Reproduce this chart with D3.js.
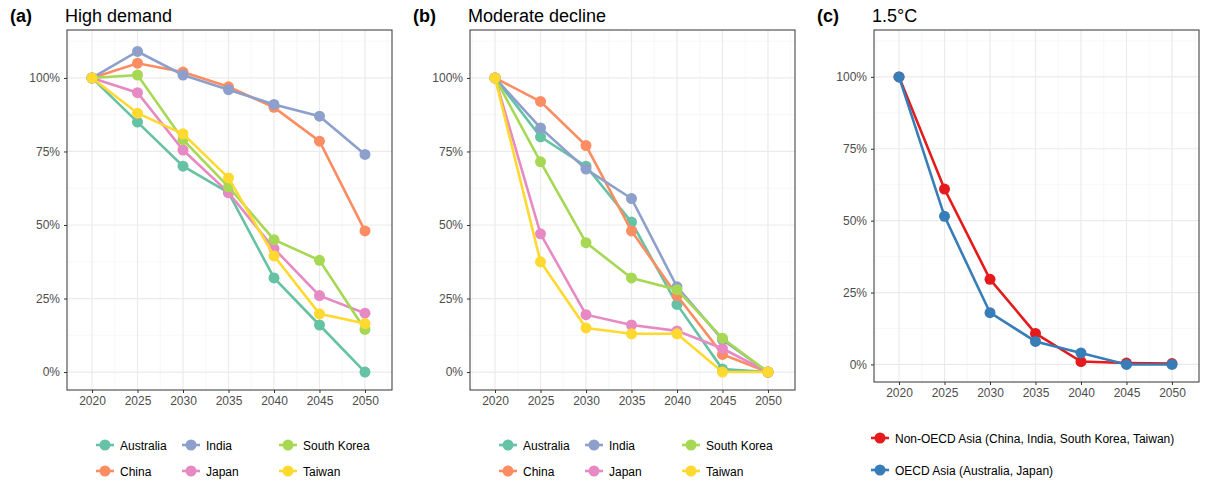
<!DOCTYPE html>
<html><head><meta charset="utf-8">
<script src="https://cdn.jsdelivr.net/npm/d3@7"></script>
<style>body{margin:0;background:#fff;font-family:Arial,"Liberation Sans",sans-serif}</style>
</head><body><svg id="c" width="1213" height="481"></svg>
<script>
const years = [2020, 2025, 2030, 2035, 2040, 2045, 2050];
const countries = [`Australia`, `China`, `India`, `Japan`, `South Korea`, `Taiwan`];
const colors = [`#66C2A5`, `#FC8D62`, `#8DA0CB`, `#E78AC3`, `#A6D854`, `#FFD92F`];
const highDemand = [
  [100, 85, 70, 61, 32, 16, 0],
  [100, 105, 102, 97, 90, 78.5, 48],
  [100, 109, 101, 96, 91, 87, 74],
  [100, 95, 75.5, 61, 42, 26, 20],
  [100, 101, 79, 63, 45, 38, 14.5],
  [100, 88, 81, 66, 39.5, 19.8, 16.5],
];
const moderate = [
  [100, 80, 70, 51, 23, 1, 0],
  [100, 92, 77, 48, 26, 6, 0],
  [100, 83, 69, 59, 29, 11, 0],
  [100, 47, 19.5, 16, 14, 8, 0],
  [100, 71.5, 44, 32, 28, 11.5, 0],
  [100, 37.5, 15, 13, 13, 0, 0],
];
const groups = [`Non-OECD Asia (China, India, South Korea, Taiwan)`, `OECD Asia (Australia, Japan)`];
const groupColors = [`#E41A1C`, `#377EB8`];
const degrees = [
  [100, 61, 29.6, 10.8, 1, 0.5, 0.3],
  [100, 51.5, 18, 8, 4, 0, 0],
];
const yTicks = [0, 25, 50, 75, 100];

const svg = d3.select(`#c`);

function panel(x0, x1, y1, series, cols, letter, title) {
  const y0 = 30;
  const x = d3.scaleLinear().domain([2017.25, 2052.97]).range([x0, x1]);
  const y = d3.scaleLinear().domain([-6.1, 116.3]).range([y1, y0]);
  const g = svg.append(`g`);
  // minor grid
  d3.range(12.5, 113, 25).forEach(v => g.append(`line`).attr(`x1`, x0).attr(`x2`, x1)
    .attr(`y1`, y(v)).attr(`y2`, y(v)).attr(`stroke`, `#f2f2f2`).attr(`stroke-width`, 0.6));
  d3.range(2017.5, 2053, 5).forEach(v => g.append(`line`).attr(`y1`, y0).attr(`y2`, y1)
    .attr(`x1`, x(v)).attr(`x2`, x(v)).attr(`stroke`, `#f2f2f2`).attr(`stroke-width`, 0.6));
  yTicks.forEach(v => g.append(`line`).attr(`x1`, x0).attr(`x2`, x1)
    .attr(`y1`, y(v)).attr(`y2`, y(v)).attr(`stroke`, `#ebebeb`).attr(`stroke-width`, 1.2));
  years.forEach(v => g.append(`line`).attr(`y1`, y0).attr(`y2`, y1)
    .attr(`x1`, x(v)).attr(`x2`, x(v)).attr(`stroke`, `#ebebeb`).attr(`stroke-width`, 1.2));
  g.append(`rect`).attr(`x`, x0).attr(`y`, y0).attr(`width`, x1 - x0).attr(`height`, y1 - y0)
    .attr(`fill`, `none`).attr(`stroke`, `#333`).attr(`stroke-width`, 1);

  const xa = g.append(`g`).attr(`transform`, `translate(0,${y1})`)
    .call(d3.axisBottom(x).tickValues(years).tickFormat(d3.format(`d`)).tickSize(3).tickPadding(3));
  const ya = g.append(`g`).attr(`transform`, `translate(${x0},0)`)
    .call(d3.axisLeft(y).tickValues(yTicks).tickFormat(d => d + `%`).tickSize(3).tickPadding(4));
  [xa, ya].forEach(a => {
    a.select(`.domain`).remove();
    a.selectAll(`line`).attr(`stroke`, `#333`);
    a.selectAll(`text`).attr(`fill`, `#4d4d4d`).style(`font-size`, `12px`).style(`font-family`, `Arial`);
  });

  const line = d3.line().x((d, i) => x(years[i])).y(d => y(d));
  series.forEach((s, k) => {
    g.append(`path`).attr(`d`, line(s)).attr(`fill`, `none`).attr(`stroke`, cols[k]).attr(`stroke-width`, 2.6);
    g.selectAll(null).data(s).enter().append(`circle`)
      .attr(`cx`, (d, i) => x(years[i])).attr(`cy`, d => y(d)).attr(`r`, 5.5).attr(`fill`, cols[k]);
  });

  svg.append(`text`).attr(`x`, x0 - 57).attr(`y`, 22).text(letter)
    .style(`font-size`, `18px`).style(`font-weight`, `bold`);
  svg.append(`text`).attr(`x`, x0 - 2).attr(`y`, 22).text(title).style(`font-size`, `18px`);
}

function countryLegend(xs) {
  const cols = [0, 86, 183];
  countries.forEach((c, k) => {
    const col = Math.floor(k / 2), row = k % 2;
    const cx = xs + cols[col], cy = 445 + row * 26;
    svg.append(`line`).attr(`x1`, cx - 9).attr(`x2`, cx + 9).attr(`y1`, cy).attr(`y2`, cy)
      .attr(`stroke`, colors[k]).attr(`stroke-width`, 2.6);
    svg.append(`circle`).attr(`cx`, cx).attr(`cy`, cy).attr(`r`, 5.5).attr(`fill`, colors[k]);
    svg.append(`text`).attr(`x`, cx + 15).attr(`y`, cy + 4.5).text(c).style(`font-size`, `12px`);
  });
}

panel(67, 392, 390, highDemand, colors, `(a)`, `High demand`);
panel(470, 795, 390, moderate, colors, `(b)`, `Moderate decline`);
panel(874, 1199, 382, degrees, groupColors, `(c)`, `1.5°C`);
countryLegend(105);
countryLegend(508);
groups.forEach((t, k) => {
  const cx = 880, cy = 438 + k * 32;
  svg.append(`line`).attr(`x1`, cx - 9).attr(`x2`, cx + 9).attr(`y1`, cy).attr(`y2`, cy)
    .attr(`stroke`, groupColors[k]).attr(`stroke-width`, 2.6);
  svg.append(`circle`).attr(`cx`, cx).attr(`cy`, cy).attr(`r`, 5.5).attr(`fill`, groupColors[k]);
  svg.append(`text`).attr(`x`, cx + 15).attr(`y`, cy + 4.5).text(t).style(`font-size`, `12px`);
});
</script></body></html>
